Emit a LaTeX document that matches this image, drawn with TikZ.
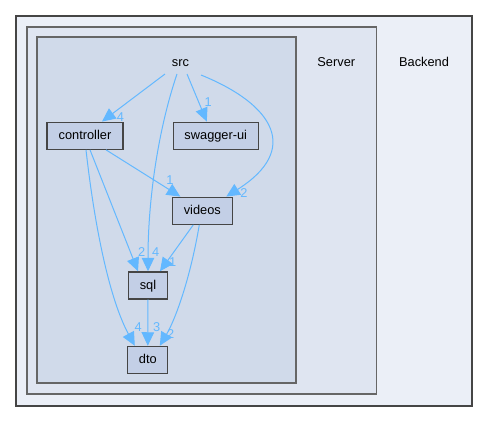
\documentclass[tikz,border=0pt]{standalone}
\usepackage{fontspec}
\setmainfont{Liberation Sans}
\usetikzlibrary{arrows.meta}
\definecolor{edgeblue}{HTML}{63B8FF}
\definecolor{backfill}{HTML}{EBEFF7}
\definecolor{serverfill}{HTML}{DFE5F1}
\definecolor{srcfill}{HTML}{D0DAEA}
\definecolor{nodefill}{HTML}{C3CFE6}
\definecolor{nodeborder}{HTML}{454545}
\definecolor{clborder}{HTML}{666666}
\tikzset{
  txt/.style={font=\fontsize{12.8}{14}\selectfont, inner sep=0pt, text height=9.2pt, text depth=2pt},
  dirnode/.style={txt, draw=nodeborder, fill=nodefill, line width=1.3pt, minimum height=27pt, anchor=center},
  lbl/.style={txt, text=edgeblue, anchor=base, text height=0pt, text depth=0pt},
  dep/.style={draw=edgeblue, line width=1pt, arrows={-Triangle[length=13.5pt,width=12.5pt]}},
  cluster/.style={txt, anchor=base}
}
\begin{document}
\begin{tikzpicture}[x=1pt,y=-1pt]
\useasboundingbox (0,0) rectangle (488,421);
% clusters
\draw[fill=backfill, draw=nodeborder, line width=2pt] (15.5,15.5) rectangle (471.5,405.5);
\draw[fill=serverfill, draw=clborder, line width=1.4pt] (27,27) rectangle (376.5,394);
\draw[fill=srcfill, draw=clborder, line width=1.4pt] (37,37) rectangle (296,383);
\node[cluster] (backendlbl) at (424,66.7) {Backend};
\node[cluster] (serverlbl) at (336.3,66.7) {Server};
\node[txt, anchor=base, minimum height=0pt] (srclbl) at (180.5,66.7) {src};
\coordinate (src) at (180.5,74);
% nodes
\node[dirnode, minimum width=76pt] (controller) at (85,135.7) {controller};
\node[dirnode, minimum width=85pt] (swagger) at (215.8,135.7) {swagger-ui};
\node[dirnode, minimum width=60pt] (videos) at (202.3,210.7) {videos};
\node[dirnode, minimum width=39.5pt] (sql) at (148,285.4) {sql};
\node[dirnode, minimum width=40pt] (dto) at (147.8,359.9) {dto};
% edges
\draw[dep] ([xshift=-15.5pt]src) -- ([xshift=17pt]controller.north);
\draw[dep] ([xshift=6.5pt]src) -- ([xshift=-9pt]swagger.north);
\draw[dep] ([xshift=20.5pt,yshift=-1pt]src) .. controls (275,105) and (300,150) .. ([xshift=24pt]videos.north);
\draw[dep] ([xshift=-3.5pt]src) .. controls (158,130) and (148,200) .. (sql.north);
\draw[dep] ([xshift=21pt]controller.south) -- ([xshift=-22pt]videos.north);
\draw[dep] ([xshift=5pt]controller.south) -- ([xshift=-10pt]sql.north);
\draw[dep] ([xshift=1pt]controller.south) .. controls (95,230) and (110,300) .. ([xshift=-13pt]dto.north);
\draw[dep] ([xshift=-9pt]videos.south) -- ([xshift=12pt]sql.north);
\draw[dep] ([xshift=-3pt]videos.south) .. controls (190,280) and (175,320) .. ([xshift=12pt]dto.north);
\draw[dep] (sql.south) -- (dto.north);
% edge labels
\node[lbl] (l1) at (120.5,121) {4};
\node[lbl] (l2) at (208.3,106) {1};
\node[lbl] (l3) at (244,197.7) {2};
\node[lbl] (l4) at (170,184) {1};
\node[lbl] (l5) at (141.7,256) {2};
\node[lbl] (l6) at (155.7,256) {4};
\node[lbl] (l7) at (172.7,266.7) {1};
\node[lbl] (l8) at (138.3,331.7) {4};
\node[lbl] (l9) at (156.7,331) {3};
\node[lbl] (l10) at (170.7,338.3) {2};
\end{tikzpicture}
\end{document}
